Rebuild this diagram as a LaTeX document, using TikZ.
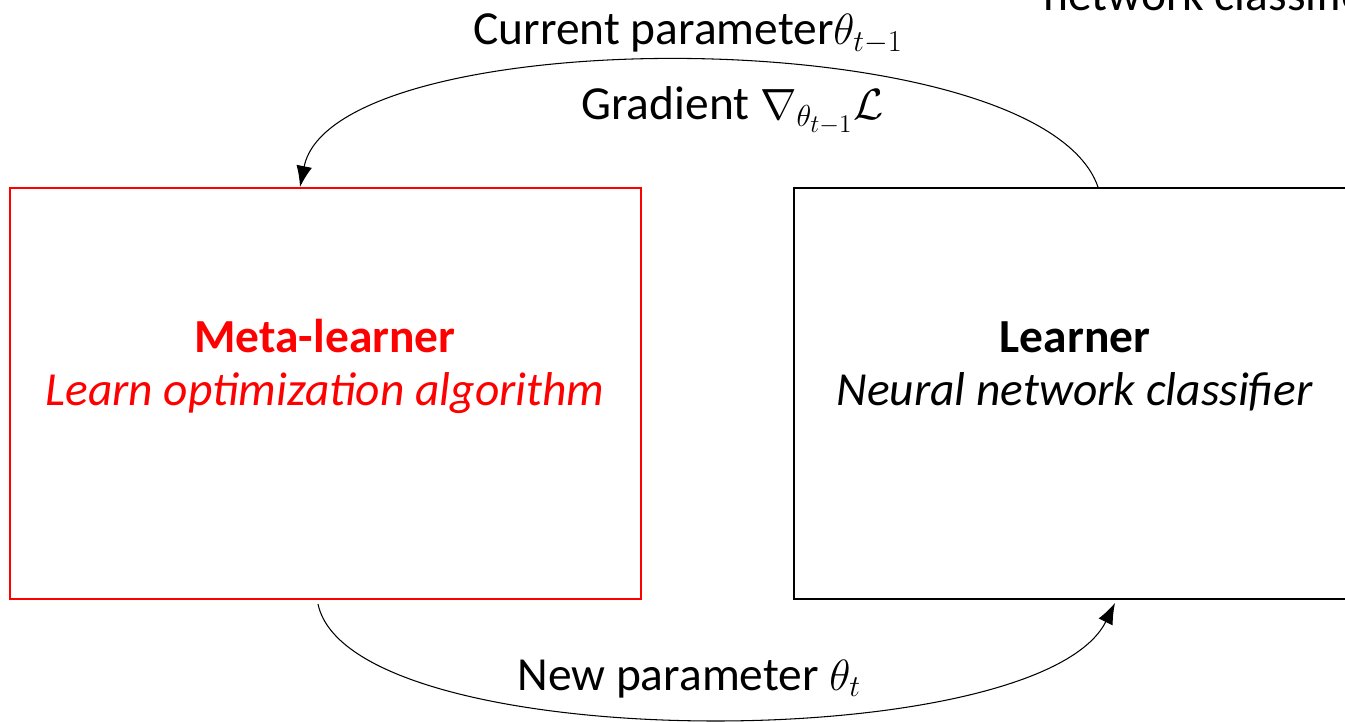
\documentclass[tikz,border=0pt]{standalone}
\usepackage{fontspec}
\setmainfont{Carlito}
\usepackage{tikz}
\usetikzlibrary{arrows.meta}
\usetikzlibrary{positioning}
\tikzstyle{box} = [rectangle, draw, line width=1.1pt, minimum width=12.62cm, minimum height=8.22cm]
\tikzstyle{lbl} = [anchor=base, inner sep=0pt, font=\fontsize{27}{32}\selectfont]
\tikzstyle{loop} = [line width=0.6pt, -{Latex[length=12pt,width=9pt]}]

\begin{document}
\begin{tikzpicture}
    \useasboundingbox (0,0) rectangle (26.9,14.42);
    \clip (0,0) rectangle (26.9,14.42);

    \node[box, red] (meta) at (6.51,6.55) {};
    \node[box, minimum width=11.24cm] (learner) at (21.5,6.55) {};

    \node[lbl, red] (metaname) at (6.5,7.38) {\textbf{Meta-learner}};
    \node[lbl, red] (metatask) at (6.5,6.32) {\textit{Learn optimization algorithm}};
    \node[lbl] (learnername) at (21.5,7.38) {\textbf{Learner}};
    \node[lbl] (learnertask) at (21.5,6.32) {\textit{Neural network classifier}};

    \draw[loop] ([xshift=0.46cm]learner.north) .. controls +(-1.16,3.36) and +(0.68,3.36) .. ([xshift=-0.51cm]meta.north);
    \draw[loop] ([xshift=-0.15cm,yshift=-0.08cm]meta.south) .. controls +(0.64,-3.06) and +(-1.52,-3.08) .. ([xshift=0.8cm,yshift=-0.06cm]learner.south);

    \node[lbl, anchor=base west] (current) at (9.46,13.52) {Current parameter$\theta_{t-1}$};
    \node[lbl, anchor=base west] (gradient) at (11.62,12.02) {Gradient $\nabla_{\theta_{t-1}}\mathcal{L}$};
    \node[lbl, anchor=base west] (newparam) at (10.34,0.62) {New parameter $\theta_t$};
    \node[lbl, anchor=base west] (cutoff) at (20.86,14.2) {network classifier};
  \end{tikzpicture}
\end{document}
